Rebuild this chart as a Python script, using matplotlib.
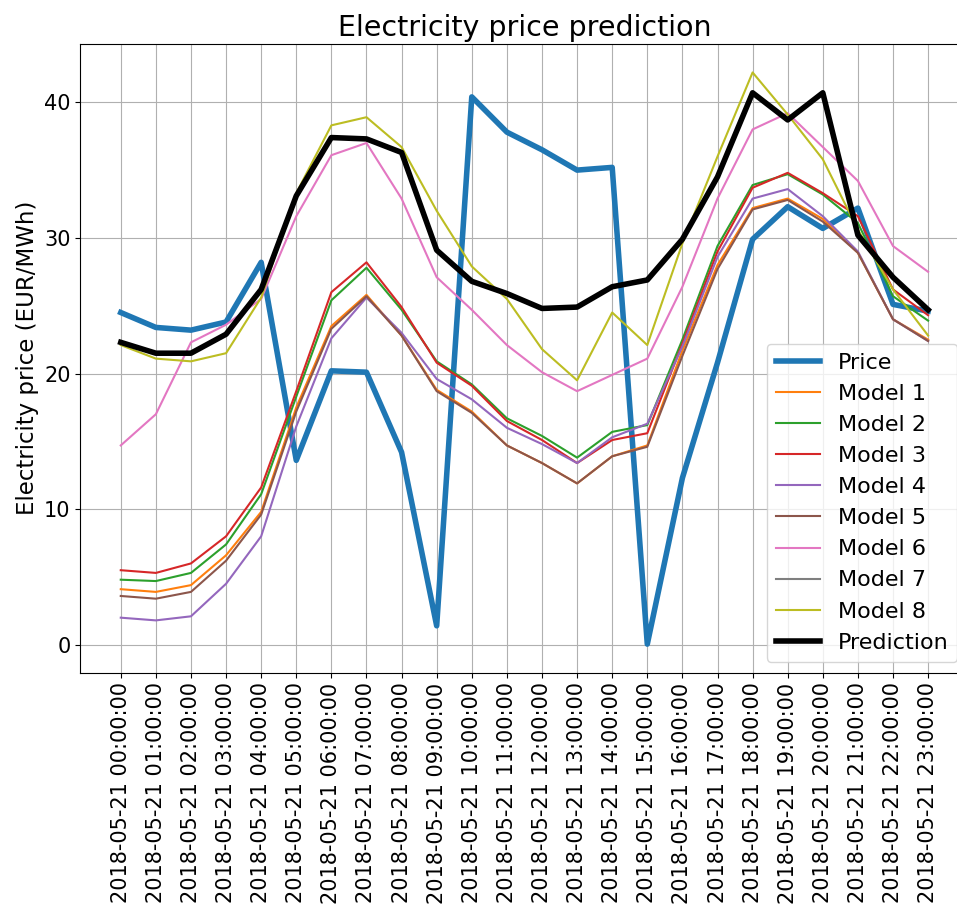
import matplotlib
matplotlib.use('Agg')
import matplotlib.pyplot as plt

# hourly timestamps for one day
hours = ['2018-05-21 %02d:00:00' % h for h in range(24)]

price = [24.5, 23.4, 23.2, 23.8, 28.2, 13.6, 20.2, 20.1, 14.2, 1.4, 40.4, 37.8,
         36.5, 35.0, 35.2, 0.05, 12.3, 20.8, 29.9, 32.3, 30.7, 32.2, 25.1, 24.6]
model1 = [4.1, 3.9, 4.4, 6.6, 9.8, 17.5, 23.5, 25.8, 22.8, 18.8, 17.2, 14.7,
          13.4, 11.9, 13.9, 14.7, 21.7, 28.0, 32.2, 32.9, 31.4, 28.9, 24.0, 22.5]
model2 = [4.8, 4.7, 5.3, 7.4, 11.1, 18.3, 25.4, 27.8, 24.7, 20.9, 19.2, 16.7,
          15.4, 13.8, 15.7, 16.2, 22.5, 29.4, 33.9, 34.7, 33.2, 31.1, 25.7, 23.9]
model3 = [5.5, 5.3, 6.0, 8.0, 11.6, 18.7, 26.0, 28.2, 24.9, 20.8, 19.1, 16.5,
          15.1, 13.4, 15.1, 15.6, 22.2, 29.0, 33.7, 34.8, 33.3, 31.6, 26.2, 24.3]
model4 = [2.0, 1.8, 2.1, 4.5, 8.0, 16.1, 22.6, 25.6, 23.0, 19.6, 18.1, 16.0,
          14.8, 13.4, 15.3, 16.3, 22.0, 28.6, 32.9, 33.6, 31.6, 29.0, 24.0, 22.4]
model5 = [3.6, 3.4, 3.9, 6.2, 9.6, 17.2, 23.3, 25.7, 22.8, 18.7, 17.1, 14.7,
          13.4, 11.9, 13.9, 14.6, 21.3, 27.7, 32.1, 32.8, 31.2, 28.9, 24.0, 22.4]
model6 = [14.7, 17.0, 22.3, 23.6, 25.5, 31.6, 36.1, 37.0, 32.9, 27.1, 24.7, 22.1,
          20.1, 18.7, 19.9, 21.1, 26.4, 32.9, 38.0, 39.2, 36.7, 34.2, 29.4, 27.5]
# model 7 is hidden under the prediction line
model7 = [22.3, 21.5, 21.5, 22.9, 26.2, 33.1, 37.4, 37.3, 36.3, 29.1, 26.8, 25.9,
          24.8, 24.9, 26.4, 26.9, 29.9, 34.5, 40.7, 38.7, 40.7, 30.2, 27.1, 24.7]
model8 = [22.1, 21.1, 20.9, 21.5, 25.6, 33.3, 38.3, 38.9, 36.7, 32.0, 27.9, 25.5,
          21.8, 19.5, 24.5, 22.1, 29.6, 36.0, 42.2, 39.1, 35.8, 30.6, 26.2, 22.8]
prediction = [22.3, 21.5, 21.5, 22.9, 26.2, 33.1, 37.4, 37.3, 36.3, 29.1, 26.8, 25.9,
              24.8, 24.9, 26.4, 26.9, 29.9, 34.5, 40.7, 38.7, 40.7, 30.2, 27.1, 24.7]

models = [model1, model2, model3, model4, model5, model6, model7, model8]

fig, ax = plt.subplots(figsize=(9.57, 9.14), dpi=100)
# the original figure is cut off on the right, so the axes run past the edge
fig.subplots_adjust(left=0.084, right=1.012, top=0.952, bottom=0.264)

ax.plot(hours, price, color='C0', linewidth=4, label='Price')
for i, m in enumerate(models):
    ax.plot(hours, m, color='C%d' % (i + 1), linewidth=1.5, label='Model %d' % (i + 1))
ax.plot(hours, prediction, color='black', linewidth=4, label='Prediction')

ax.set_title('Electricity price prediction', fontsize=20.5)
ax.set_ylabel('Electricity price (EUR/MWh)', fontsize=16.5)
ax.tick_params(axis='both', labelsize=15)
plt.setp(ax.get_xticklabels(), rotation=90)
ax.grid(True)
ax.legend(loc='lower right', fontsize=16)

plt.savefig('out.png', dpi=100)
